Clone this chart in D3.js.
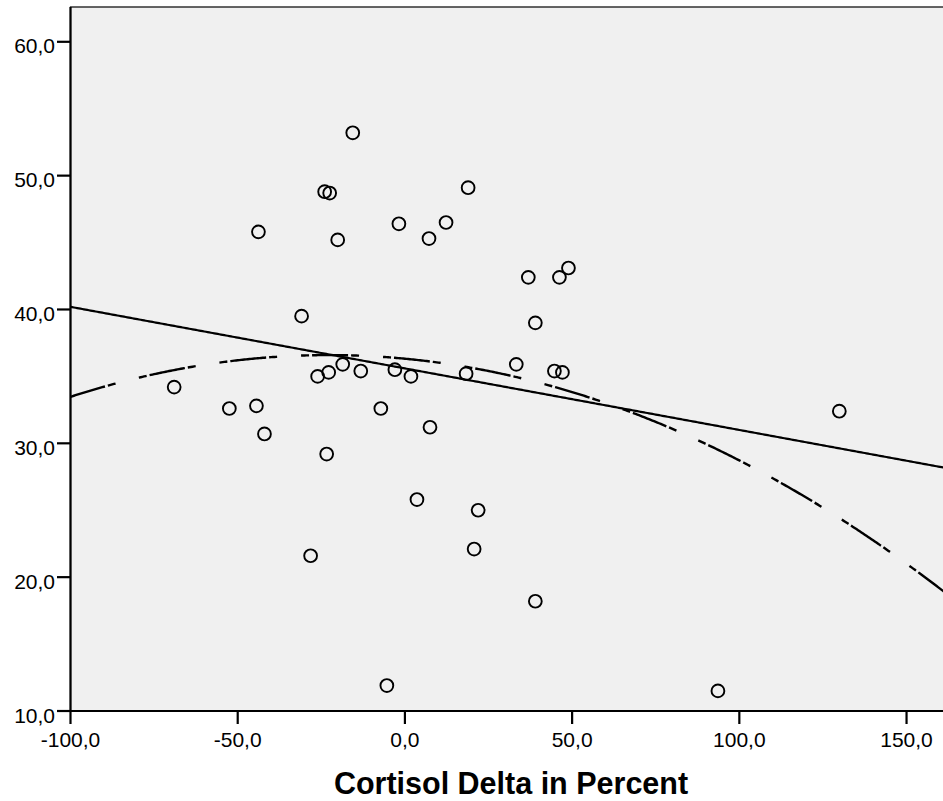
<!DOCTYPE html>
<html><head><meta charset="utf-8">
<script src="https://cdn.jsdelivr.net/npm/d3@7"></script>
<style>
body{margin:0;background:#fff;}
svg{display:block;}
text{font-family:"Liberation Sans",Arial,sans-serif;fill:#000;}
</style>
</head><body>
<svg id="chart" width="943" height="801"></svg>
<script>
// ---- data ----
const cortisolDelta = [-69.0,-52.5,-44.4,-42.0,-43.8,-30.9,-26.1,-28.2,-23.4,-22.8,-24.0,-22.5,-20.1,-18.6,-15.6,-13.2,-7.2,-5.4,-3.0,-1.8,1.8,3.6,7.2,7.5,12.3,18.3,18.9,20.7,21.9,33.3,36.9,39.0,39.0,44.7,46.2,47.1,48.9,93.6,129.9];
const outcome = [34.2,32.6,32.8,30.7,45.8,39.5,35.0,21.6,29.2,35.3,48.8,48.7,45.2,35.9,53.2,35.4,32.6,11.9,35.5,46.4,35.0,25.8,45.3,31.2,46.5,35.2,49.1,22.1,25.0,35.9,42.4,39.0,18.2,35.4,42.4,35.3,43.1,11.5,32.4];
const xTicks = [-100,-50,0,50,100,150];
const yTicks = [10,20,30,40,50,60];
const xDomain = [-100,161.5];
const yDomain = [10,62.6];
const xTitle = "Cortisol Delta in Percent";

(function(){
// ---- layout ----
const svg = d3.select("#chart");
const pL = 70.5, pT = 7, pB = 711, pR = 945;
const x = d3.scaleLinear().domain(xDomain).range([pL, pR]);
const y = d3.scaleLinear().domain(yDomain).range([pB, pT]);
const fmt = v => d3.format(".1f")(v).replace("\u2212","-").replace(".",",");

svg.append("defs").append("clipPath").attr("id","clip")
  .append("rect").attr("x",pL).attr("y",pT).attr("width",pR-pL).attr("height",pB-pT);

svg.append("rect").attr("x",pL).attr("y",pT).attr("width",pR-pL+5).attr("height",pB-pT)
  .attr("fill","#f0f0f0").attr("stroke","#000").attr("stroke-width",1.2);

// ---- fits (least squares on the points) ----
const pts = cortisolDelta.map((v,i)=>[v,outcome[i]]);
const n = pts.length;
const mx = d3.mean(cortisolDelta), my = d3.mean(outcome);
let sxy=0,sxx=0; pts.forEach(([a,b])=>{sxy+=(a-mx)*(b-my);sxx+=(a-mx)*(a-mx);});
const b1 = sxy/sxx, b0 = my-b1*mx;
function solve3(A,B){
  const M=A.map((r,i)=>r.concat([B[i]]));
  for(let i=0;i<3;i++){
    let p=i; for(let k=i+1;k<3;k++) if(Math.abs(M[k][i])>Math.abs(M[p][i])) p=k;
    [M[i],M[p]]=[M[p],M[i]];
    for(let k=i+1;k<3;k++){const f=M[k][i]/M[i][i]; for(let j=i;j<4;j++) M[k][j]-=f*M[i][j];}
  }
  const s=[0,0,0];
  for(let i=2;i>=0;i--){let t=M[i][3]; for(let j=i+1;j<3;j++) t-=M[i][j]*s[j]; s[i]=t/M[i][i];}
  return s;
}
const S=k=>d3.sum(cortisolDelta,v=>Math.pow(v,k));
const T=k=>d3.sum(pts,([a,b])=>Math.pow(a,k)*b);
const q = solve3([[n,S(1),S(2)],[S(1),S(2),S(3)],[S(2),S(3),S(4)]],[T(0),T(1),T(2)]);

const g = svg.append("g").attr("clip-path","url(#clip)");
const xs = d3.range(xDomain[0], xDomain[1]+0.01, 0.5);
const line = d3.line().x(d=>x(d[0])).y(d=>y(d[1]));
g.append("path").datum(xs.map(v=>[v,b0+b1*v])).attr("d",line)
  .attr("fill","none").attr("stroke","#000").attr("stroke-width",2.2);
g.append("path").datum(xs.map(v=>[v,q[0]+q[1]*v+q[2]*v*v])).attr("d",line)
  .attr("fill","none").attr("stroke","#000").attr("stroke-width",2.4)
  .attr("stroke-dasharray","36,3,8,24,8,3");

g.selectAll("circle.pt").data(pts).join("circle").attr("class","pt")
  .attr("cx",d=>x(d[0])).attr("cy",d=>y(d[1])).attr("r",6.4)
  .attr("fill","none").attr("stroke","#000").attr("stroke-width",1.9);

// ---- axes ----
svg.append("line").attr("x1",pL).attr("x2",pL).attr("y1",pT).attr("y2",pB+1)
  .attr("stroke","#000").attr("stroke-width",2.2);
svg.append("line").attr("x1",pL).attr("x2",pR).attr("y1",pB).attr("y2",pB)
  .attr("stroke","#000").attr("stroke-width",2.2);

const yAx = svg.append("g");
yTicks.forEach(t=>{
  yAx.append("line").attr("x1",57).attr("x2",pL).attr("y1",y(t)).attr("y2",y(t))
    .attr("stroke","#000").attr("stroke-width",2.2);
  yAx.append("text").attr("x",55).attr("y",y(t)+11.5).attr("text-anchor","end")
    .attr("font-size",21).text(fmt(t));
});
const xAx = svg.append("g");
xTicks.forEach(t=>{
  xAx.append("line").attr("x1",x(t)).attr("x2",x(t)).attr("y1",pB).attr("y2",724)
    .attr("stroke","#000").attr("stroke-width",2.2);
  xAx.append("text").attr("x",x(t)).attr("y",747).attr("text-anchor","middle")
    .attr("font-size",21).text(fmt(t));
});

svg.append("text").attr("x",511).attr("y",794).attr("text-anchor","middle")
  .attr("font-size",30.5).attr("font-weight","bold").text(xTitle);
})();
</script>
</body></html>
